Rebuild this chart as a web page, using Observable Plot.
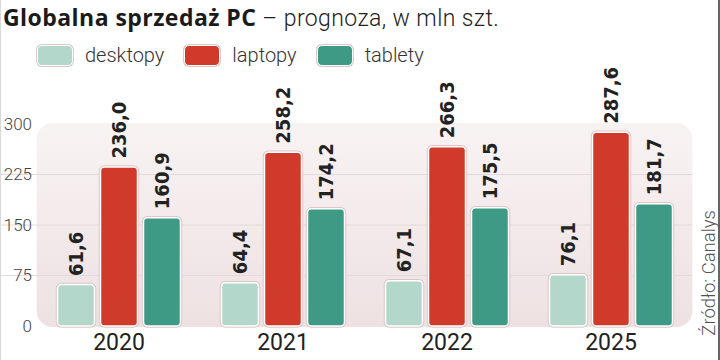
<!DOCTYPE html>
<html><head><meta charset="utf-8">
<script src="https://cdn.jsdelivr.net/npm/d3@7"></script>
<script src="https://cdn.jsdelivr.net/npm/@observablehq/plot@0.6"></script>
<style>
body{margin:0;background:#fff;font-family:Roboto,"Noto Sans",sans-serif;}
#wrap{position:relative;width:720px;height:360px;overflow:hidden;background:#fff;}
#lb{position:absolute;left:0;top:0;width:1px;height:360px;background:#d8d8d8;}
#rb{position:absolute;left:718px;top:0;width:1.5px;height:360px;background:#666;}
#title{position:absolute;left:3px;top:1px;font-size:23px;color:#1a1a1a;white-space:nowrap;}
#title b{font-weight:700;font-family:"Open Sans",Roboto,sans-serif;font-size:23px;letter-spacing:0.45px;}
#title span{font-weight:300;color:#222;letter-spacing:0.4px;}
#legend{position:absolute;left:37px;top:43px;display:flex;align-items:center;font-size:20px;font-weight:300;color:#333;}
.item{display:flex;align-items:center;margin-right:20px;}
.sw{width:34px;height:19px;border-radius:5px;border:1.5px solid #fff;box-shadow:0 0 0 1px #dcc8c8;margin-right:12px;}
#chart{position:absolute;left:0;top:35px;}
#source{position:absolute;left:698px;top:210px;writing-mode:vertical-rl;transform:rotate(180deg);font-size:18.5px;font-weight:300;color:#555;white-space:nowrap;}
</style>
</head><body>
<div id="wrap">
  <div id="lb"></div><div id="rb"></div>
  <div id="title"></div>
  <div id="legend"></div>
  <div id="chart"></div>
  <div id="source"></div>
</div>
<script>
const titleBold = "Globalna sprzedaż PC";
const titleRest = " – prognoza, w mln szt.";
const sourceText = "Źródło: Canalys";
const years = ["2020", "2021", "2022", "2025"];
const series = ["desktopy", "laptopy", "tablety"];
const desktopy = [61.6, 64.4, 67.1, 76.1];
const laptopy = [236.0, 258.2, 266.3, 287.6];
const tablety = [160.9, 174.2, 175.5, 181.7];
const yTicks = [0, 75, 150, 225, 300];
const colors = ["#b3d8cb", "#d03a2a", "#3f9a85"];

const values = {desktopy, laptopy, tablety};
const data = years.flatMap((year, i) => series.map(s => ({year, series: s, value: values[s][i]})));
const fmt = v => v.toFixed(1).replace(".", ",");

document.getElementById("title").innerHTML = `<b>${titleBold}</b><span>${titleRest}</span>`;
document.getElementById("source").textContent = sourceText;
const legend = d3.select("#legend");
series.forEach((s, i) => {
  const it = legend.append("div").attr("class", "item");
  it.append("div").attr("class", "sw").style("background", colors[i]);
  it.append("div").text(s);
});

const W = 720, H = 325, ML = 54.5, MR = 46, MT = 89, MB = 34;
const plot = Plot.plot({
  width: W, height: H,
  marginLeft: ML, marginRight: MR, marginTop: MT, marginBottom: MB,
  style: {background: "transparent", overflow: "visible", fontFamily: "Roboto, sans-serif"},
  fx: {domain: years, paddingInner: 0.236, paddingOuter: 0, label: null},
  x: {domain: series, paddingInner: 0.14, paddingOuter: 0, axis: null},
  y: {domain: [0, 300], label: null},
  color: {domain: series, range: colors},
  marks: [
    Plot.axisY(yTicks, {tickSize: 0, tickPadding: 24.5, fontSize: 17, fontWeight: 300, fill: "#444", label: null}),
    Plot.axisFx({anchor: "bottom", tickSize: 0, tickPadding: 7, fontSize: 23, fill: "#222", label: null}),
    Plot.barY(data, {fx: "year", x: "series", y: "value", fill: "none", stroke: "#dcc6c6", strokeWidth: 3.5, rx: 4}),
    Plot.barY(data, {fx: "year", x: "series", y: "value", fill: "series", stroke: "white", strokeWidth: 1.5, rx: 4}),
    Plot.text(data, {fx: "year", x: "series", y: "value", text: d => fmt(d.value), rotate: -90, textAnchor: "start", dy: -9,
      fontSize: 20, fontWeight: "bold", fontFamily: "DejaVu Sans Condensed", fill: "#222"})
  ]
});
document.getElementById("chart").appendChild(plot);

// background panel and continuous gridlines, positioned through Plot's own scales
const svg = d3.select(plot);
const ys = plot.scale("y");
const fxs = plot.scale("fx");
const pad = 0.118 * fxs.step;
const bgLeft = fxs.apply(years[0]) - pad;
const bgRight = fxs.apply(years[years.length - 1]) + fxs.bandwidth + pad;
const bgTop = ys.apply(300) - 1, bgBottom = ys.apply(0) + 1;
const bg = svg.insert("g", ":first-child");
const defs = svg.insert("defs", ":first-child");
const grad = defs.append("linearGradient").attr("id", "bgGrad").attr("x1", 0).attr("y1", 0).attr("x2", 0).attr("y2", 1);
grad.append("stop").attr("offset", "0%").attr("stop-color", "#f8f3f3");
grad.append("stop").attr("offset", "100%").attr("stop-color", "#eee1e2");
bg.append("rect").attr("x", bgLeft).attr("y", bgTop).attr("width", bgRight - bgLeft).attr("height", bgBottom - bgTop)
  .attr("rx", 16).attr("fill", "url(#bgGrad)");
bg.selectAll("line").data(yTicks.filter(t => t > 0 && t < 300)).join("line")
  .attr("x1", 0).attr("x2", bgRight).attr("y1", d => ys.apply(d)).attr("y2", d => ys.apply(d))
  .attr("stroke", "#e2dada").attr("stroke-width", 1);
</script>
</body></html>
